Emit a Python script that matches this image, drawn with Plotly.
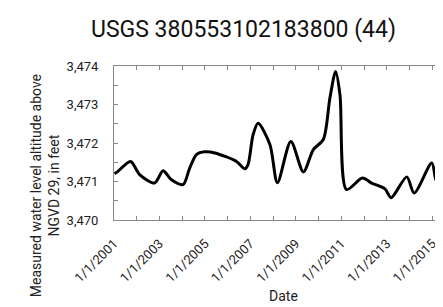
import plotly.graph_objects as go

dates = ["2001-01-10", "2001-02-24", "2001-09-24", "2002-02-17", "2002-10-15", "2003-02-28",
         "2003-07-08", "2004-01-15", "2004-05-01", "2004-08-18", "2005-01-01",
         "2005-06-10", "2006-05-22", "2006-10-04", "2006-11-24", "2007-02-14",
         "2007-05-05", "2007-11-10", "2008-03-10", "2008-10-12", "2009-05-01",
         "2009-10-08", "2010-03-17", "2010-07-01", "2010-10-01", "2010-12-10",
         "2011-03-25", "2011-12-05", "2012-05-01", "2012-12-01", "2013-03-10",
         "2013-11-17", "2014-03-15", "2014-12-24", "2015-03-15", "2015-10-14"]
levels = [3471.2, 3471.25, 3471.52, 3471.18, 3470.96, 3471.28,
          3471.05, 3470.92, 3471.35, 3471.70, 3471.77,
          3471.74, 3471.52, 3471.33, 3471.44, 3472.22,
          3472.51, 3471.96, 3470.97, 3472.04, 3471.25,
          3471.83, 3472.09, 3473.17, 3473.86, 3473.25,
          3470.79, 3471.09, 3470.96, 3470.81, 3470.58,
          3471.12, 3470.70, 3471.48, 3470.99, 3471.50]

title = "USGS 380553102183800 (44)"
x_title = "Date"
y_title = "Measured water level altitude above<br>NGVD 29, in feet"

FONT = "Roboto, sans-serif"

fig = go.Figure()
fig.add_trace(go.Scatter(x=dates, y=levels, mode="lines",
                         line=dict(color="black", width=3, shape="spline", smoothing=0.8),
                         hoverinfo="skip"))

fig.update_layout(
    width=443, height=307,
    margin=dict(l=106, r=1, t=58, b=95),
    paper_bgcolor="white", plot_bgcolor="white",
    showlegend=False,
    font=dict(family=FONT, color="#222", size=12),
    xaxis=dict(
        type="date", range=["2001-01-01", "2015-10-12"], automargin=False,
        tick0="2001-01-01", dtick="M24", tickformat="%-m/%-d/%Y",
        tickangle=-45, ticks="inside", ticklen=4, tickcolor="#888",
        ticklabelstandoff=10,
        minor=dict(dtick="M12", ticks="inside", ticklen=4, tickcolor="#888"),
        showline=True, linecolor="#888", linewidth=1, mirror="ticks",
        showgrid=False, zeroline=False, tickfont=dict(size=13, family=FONT, color="#222"),
    ),
    yaxis=dict(
        range=[3470, 3474], dtick=1, tickformat=",d", automargin=False,
        ticks="inside", ticklen=4, tickcolor="#888",
        ticklabelstandoff=12,
        minor=dict(dtick=0.5, ticks="inside", ticklen=4, tickcolor="#888"),
        showline=True, linecolor="#888", linewidth=1, mirror="ticks",
        showgrid=False, zeroline=False, tickfont=dict(size=13, family=FONT, color="#222"),
    ),
    annotations=[
        dict(text=title, xref="paper", yref="paper", x=0.386, y=1.234,
             xanchor="center", yanchor="middle", showarrow=False,
             font=dict(size=23, family=FONT, color="#111")),
        dict(text=x_title, xref="paper", yref="paper", x=0.504, y=-0.494,
             xanchor="center", yanchor="middle", showarrow=False,
             font=dict(size=14, family=FONT, color="#222")),
        dict(text=y_title, xref="paper", yref="paper", x=-0.205, y=0.22,
             xanchor="center", yanchor="middle", showarrow=False, textangle=-90,
             font=dict(size=14, family=FONT, color="#222")),
    ],
)

fig.write_html("out.html")
